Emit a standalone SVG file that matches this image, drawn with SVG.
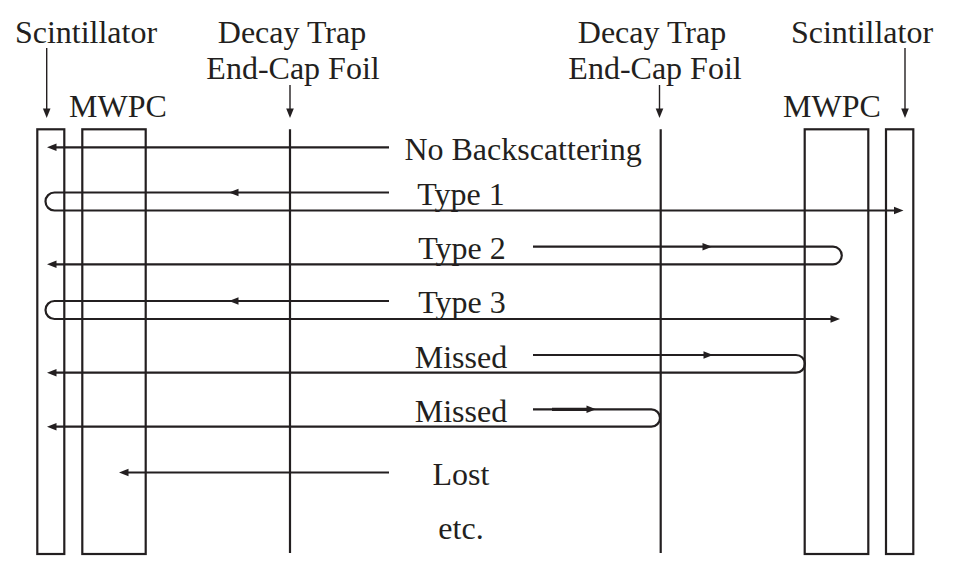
<svg xmlns="http://www.w3.org/2000/svg" xmlns:xlink="http://www.w3.org/1999/xlink" width="956" height="574" viewBox="0 0 956 574">
<style>
  text { font-family: "Liberation Serif", "DejaVu Serif", serif; font-size: 32px; fill: #231f20; text-anchor: middle; }
  .det { fill: none; stroke: #231f20; stroke-width: 2.2; }
  .trk { fill: none; stroke: #231f20; stroke-width: 2.2; }
  .ptr { fill: none; stroke: #231f20; stroke-width: 1.4; }
  .ah { fill: #231f20; stroke: none; }
</style>
<defs>
  <path id="ahL" d="M0,0 L9.5,-3.8 L9.5,3.8 Z"/>
  <path id="ahR" d="M0,0 L-9.5,-3.8 L-9.5,3.8 Z"/>
  <path id="ahD" d="M0,0 L-3.8,-9.5 L3.8,-9.5 Z"/>
</defs>
<rect width="956" height="574" fill="#ffffff"/>

<g id="scintillator-left">
  <rect class="det" x="37.3" y="129.3" width="27" height="424.7"/>
  <text x="86" y="43">Scintillator</text>
  <line class="ptr" x1="46.7" y1="48" x2="46.7" y2="110"/>
  <use xlink:href="#ahD" class="ah" x="46.7" y="118"/>
</g>
<g id="mwpc-left">
  <rect class="det" x="82.3" y="129.3" width="63.4" height="424.7"/>
  <text x="118" y="117">MWPC</text>
</g>
<g id="foil-left">
  <line class="det" x1="290" y1="129.3" x2="290" y2="553"/>
  <text x="292" y="43">Decay Trap</text>
  <text x="293" y="79">End-Cap Foil</text>
  <line class="ptr" x1="290" y1="85" x2="290" y2="110"/>
  <use xlink:href="#ahD" class="ah" x="290" y="118"/>
</g>
<g id="foil-right">
  <line class="det" x1="660.7" y1="129.3" x2="660.7" y2="553"/>
  <text x="652" y="43">Decay Trap</text>
  <text x="655" y="79">End-Cap Foil</text>
  <line class="ptr" x1="659.5" y1="85" x2="659.5" y2="110"/>
  <use xlink:href="#ahD" class="ah" x="659.5" y="118"/>
</g>
<g id="mwpc-right">
  <rect class="det" x="804.7" y="129.3" width="63.6" height="424.7"/>
  <text x="832" y="117">MWPC</text>
</g>
<g id="scintillator-right">
  <rect class="det" x="886" y="129.3" width="27.3" height="424.7"/>
  <text x="862" y="43">Scintillator</text>
  <line class="ptr" x1="905" y1="48" x2="905" y2="110"/>
  <use xlink:href="#ahD" class="ah" x="905" y="118"/>
</g>

<g id="row-labels">
  <text x="523" y="160">No Backscattering</text>
  <text x="461" y="205">Type 1</text>
  <text x="462" y="259">Type 2</text>
  <text x="462" y="313">Type 3</text>
  <text x="461" y="367.5">Missed</text>
  <text x="461" y="422">Missed</text>
  <text x="461" y="485">Lost</text>
  <text x="461" y="539">etc.</text>
</g>

<g id="connectors">
  <!-- No backscattering -->
  <path class="trk" d="M389,147.3 H55"/>
  <use xlink:href="#ahL" class="ah" x="47" y="147.3"/>
  <!-- Type 1 -->
  <path class="trk" d="M389,192.5 H54.5 A9,9 0 0 0 54.5,210.5 H895"/>
  <use xlink:href="#ahL" class="ah" x="229" y="192.5"/>
  <use xlink:href="#ahR" class="ah" x="903.5" y="210.5"/>
  <!-- Type 2 -->
  <path class="trk" d="M533,246.7 H833 A8.8,8.8 0 0 1 833,264.3 H55"/>
  <use xlink:href="#ahR" class="ah" x="712" y="246.7"/>
  <use xlink:href="#ahL" class="ah" x="47" y="264.3"/>
  <!-- Type 3 -->
  <path class="trk" d="M389,301 H54.5 A9,9 0 0 0 54.5,319 H832"/>
  <use xlink:href="#ahL" class="ah" x="229" y="301"/>
  <use xlink:href="#ahR" class="ah" x="840" y="319"/>
  <!-- Missed (MWPC) -->
  <path class="trk" d="M533,355 H796 A8.85,8.85 0 0 1 796,372.7 H55"/>
  <use xlink:href="#ahR" class="ah" x="713" y="355"/>
  <use xlink:href="#ahL" class="ah" x="47" y="372.7"/>
  <!-- Missed (foil) -->
  <path class="trk" d="M533,409.3 H651.3 A8.7,8.7 0 0 1 651.3,426.7 H55"/>
  <path class="trk" style="stroke-width:3.2" d="M552,409.3 H588"/>
  <use xlink:href="#ahR" class="ah" x="596" y="409.3"/>
  <use xlink:href="#ahL" class="ah" x="47" y="426.7"/>
  <!-- Lost -->
  <path class="trk" d="M389,472.5 H127"/>
  <use xlink:href="#ahL" class="ah" x="119" y="472.5"/>
</g>
</svg>
